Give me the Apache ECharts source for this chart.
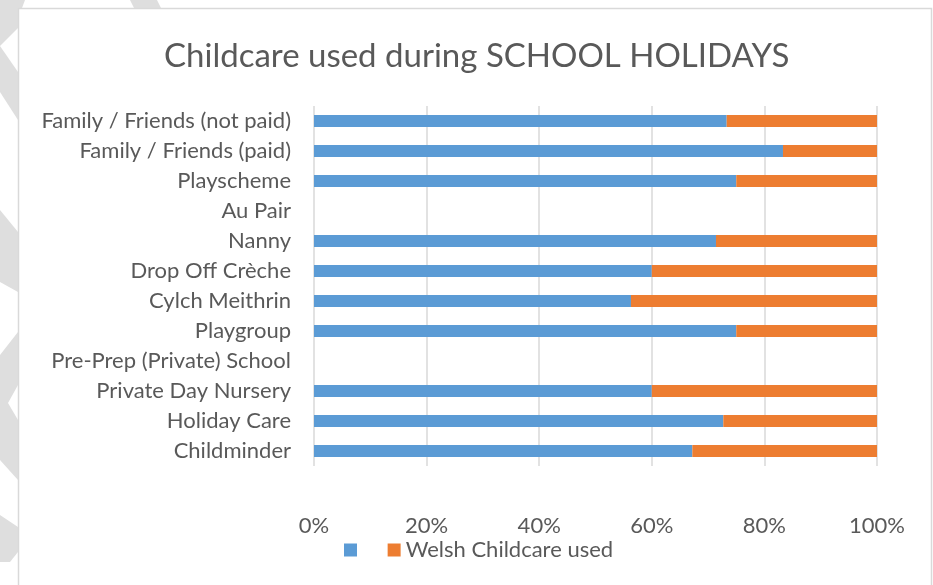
<!DOCTYPE html>
<html>
<head>
<meta charset="utf-8">
<script src="https://cdn.jsdelivr.net/npm/echarts@6/dist/echarts.min.js"></script>
<style>
html,body{margin:0;padding:0;background:#fff;}
#chart{width:933px;height:585px;}
</style>
</head>
<body>
<div id="chart"></div>
<script>
var categories = [
  "Family / Friends (not paid)",
  "Family / Friends (paid)",
  "Playscheme",
  "Au Pair",
  "Nanny",
  "Drop Off Crèche",
  "Cylch Meithrin",
  "Playgroup",
  "Pre-Prep (Private) School",
  "Private Day Nursery",
  "Holiday Care",
  "Childminder"
];
var otherValues = [73.3, 83.3, 75.0, 0, 71.4, 60.0, 56.3, 75.0, 0, 60.0, 72.7, 67.2];
var welshValues = [26.7, 16.7, 25.0, 0, 28.6, 40.0, 43.7, 25.0, 0, 40.0, 27.3, 32.8];
var seriesNames = ["\u00a0", "Welsh Childcare used"];
var tickLabels = ["0%", "20%", "40%", "60%", "80%", "100%"];

var FONT = "Lato";
var TXT = "#595959";
var G = "#dedede";

var deco = [
  {type:'rect', shape:{x:0,y:0,width:933,height:585}, style:{fill:'#ffffff'}},
  {type:'polygon', shape:{points:[[0,0],[25,0],[22,8],[18,8],[18,28],[0,46]]}, style:{fill:G}},
  {type:'polygon', shape:{points:[[0,46],[18,72],[18,120],[0,92]]}, style:{fill:G}},
  {type:'polygon', shape:{points:[[0,210],[18,232],[18,292],[0,282]]}, style:{fill:G}},
  {type:'polygon', shape:{points:[[0,355],[18,332],[18,385],[8,403],[18,420],[18,480],[0,460]]}, style:{fill:G}},
  {type:'polygon', shape:{points:[[0,515],[18,527],[18,552],[10,562],[0,562]]}, style:{fill:G}},
  {type:'polygon', shape:{points:[[130,0],[157,0],[161,8],[134,8]]}, style:{fill:G}},
  {type:'rect', shape:{x:18.5,y:8.5,width:913,height:590}, style:{fill:'#ffffff', stroke:'#d9d9d9', lineWidth:1.5}}
];

var chart = echarts.init(document.getElementById('chart'), null, {renderer:'canvas'});
chart.setOption({
  backgroundColor: '#ffffff',
  animation: false,
  graphic: {elements: deco.map(function(e){ e.z = -100; e.silent = true; return e; })},
  title: {
    text: "Childcare used during SCHOOL HOLIDAYS",
    left: 164,
    top: 35,
    padding: [5, 0, 5, 0],
    textStyle: {fontFamily: FONT, fontSize: 33, fontWeight: 'normal', color: TXT}
  },
  legend: {
    left: 339,
    top: 534,
    itemWidth: 13,
    itemHeight: 13,
    itemGap: 20,
    icon: 'rect',
    data: seriesNames,
    textStyle: {fontFamily: FONT, fontSize: 22, color: TXT}
  },
  grid: {left: 314, right: 56, top: 106, bottom: 119, containLabel: false},
  xAxis: {
    type: 'value',
    min: 0, max: 100, interval: 20,
    axisLine: {show: false},
    axisTick: {show: false},
    splitLine: {show: true, lineStyle: {color: '#d9d9d9', width: 1.5}},
    axisLabel: {
      margin: 49,
      fontFamily: FONT, fontSize: 22, color: TXT,
      formatter: function(v){ return tickLabels[Math.round(v/20)]; }
    }
  },
  yAxis: {
    type: 'category',
    inverse: true,
    data: categories,
    axisLine: {show: false},
    axisTick: {show: false},
    axisLabel: {margin: 23, fontFamily: FONT, fontSize: 22, color: TXT}
  },
  series: [
    {name: seriesNames[0], type: 'bar', stack: 'total', barWidth: 12, data: otherValues, itemStyle: {color: '#5b9bd5'}},
    {name: seriesNames[1], type: 'bar', stack: 'total', barWidth: 12, data: welshValues, itemStyle: {color: '#ed7d31'}}
  ]
});
</script>
</body>
</html>
